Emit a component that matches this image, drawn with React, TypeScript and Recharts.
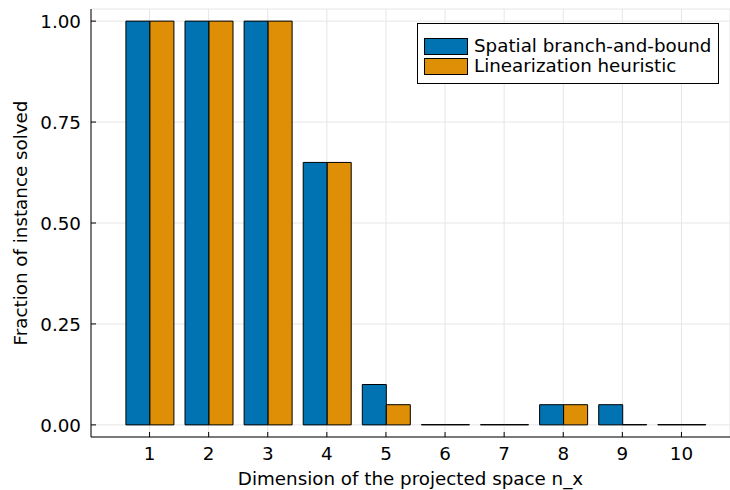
import { Bar, BarChart, CartesianGrid, Label, Legend, XAxis, YAxis } from "recharts";

// values
const dimensions = ["1", "2", "3", "4", "5", "6", "7", "8", "9", "10"];
const branchAndBound = [1, 1, 1, 0.65, 0.1, 0, 0, 0.05, 0.05, 0];
const linearization = [1, 1, 1, 0.65, 0.05, 0, 0, 0.05, 0, 0];
const seriesNames = ["Spatial branch-and-bound", "Linearization heuristic"];
const yTicks = [0, 0.25, 0.5, 0.75, 1];

const data = dimensions.map((dim, i) => ({
	dim,
	sbb: branchAndBound[i],
	lin: linearization[i],
}));

const FONT = "DejaVu Sans";
const FS = 18.3;

const XTick = ({ x, y, payload }: any) => (
	<g>
		<line x1={x} x2={x} y1={y} y2={y - 5} stroke="#000" />
		<text x={x} y={y + 23} textAnchor="middle" fontSize={FS} fill="#000">
			{payload.value}
		</text>
	</g>
);

const YTick = ({ x, y, payload }: any) => (
	<g>
		<line x1={x} x2={x + 5} y1={y} y2={y} stroke="#000" />
		<text x={x - 10} y={y + 7} textAnchor="end" fontSize={FS} fill="#000">
			{Number(payload.value).toFixed(2)}
		</text>
	</g>
);

const xLabel = ({ viewBox }: any) => (
	<text
		x={viewBox.x + viewBox.width / 2}
		y={viewBox.y + 48}
		textAnchor="middle"
		fontSize={FS}
		fill="#000"
	>
		Dimension of the projected space n_x
	</text>
);

const yLabel = ({ viewBox }: any) => {
	const cx = viewBox.x + 27;
	const cy = viewBox.y + viewBox.height / 2;
	return (
		<text
			transform={`translate(${cx},${cy}) rotate(-90)`}
			textAnchor="middle"
			fontSize={FS}
			fill="#000"
		>
			Fraction of instance solved
		</text>
	);
};

const LegendBox = ({ payload }: any) => (
	<div
		style={{
			width: 302,
			height: 61,
			boxSizing: "border-box",
			border: "1px solid #000",
			background: "#fff",
			padding: "12px 0 0 6px",
			fontFamily: FONT,
			fontSize: FS,
			color: "#000",
		}}
	>
		{(payload || []).map((item: any) => (
			<div
				key={item.value}
				style={{ display: "flex", alignItems: "center", height: 20 }}
			>
				<span
					style={{
						display: "inline-block",
						width: 44,
						height: 17,
						boxSizing: "border-box",
						border: "1px solid #000",
						background: item.color,
						marginRight: 6,
					}}
				/>
				<span style={{ lineHeight: "20px" }}>{item.value}</span>
			</div>
		))}
	</div>
);

export default function App() {
	return (
		<div style={{ position: "absolute", left: 0, top: 0 }}>
			<BarChart
				width={730}
				height={490}
				data={data}
				margin={{ top: 9, right: 0, bottom: 0, left: 0 }}
				barCategoryGap="10%"
				barGap={0}
				style={{ fontFamily: FONT, background: "#fff" }}
			>
				<CartesianGrid stroke="#e6e6e6" />
				<XAxis
					dataKey="dim"
					height={53}
					padding={{ left: 29, right: 19 }}
					axisLine={{ stroke: "#000" }}
					tickLine={false}
					tickSize={0}
					tickMargin={0}
					interval={0}
					tick={<XTick />}
				>
					<Label content={xLabel} />
				</XAxis>
				<YAxis
					width={91}
					type="number"
					domain={[-0.03, 1.03]}
					allowDataOverflow
					ticks={yTicks}
					axisLine={{ stroke: "#000" }}
					tickLine={false}
					tickSize={0}
					tickMargin={0}
					interval={0}
					tick={<YTick />}
				>
					<Label content={yLabel} />
				</YAxis>
				<Legend
					layout="horizontal"
					verticalAlign="middle"
					align="center"
					itemSorter={(item: any) => seriesNames.indexOf(item.value)}
					content={<LegendBox />}
					wrapperStyle={{ position: "absolute", left: 417, top: 23, width: 302 }}
				/>
				<Bar
					dataKey="sbb"
					name={seriesNames[0]}
					fill="#0173b2"
					stroke="#000"
					strokeWidth={1}
					minPointSize={0.3}
					isAnimationActive={false}
				/>
				<Bar
					dataKey="lin"
					name={seriesNames[1]}
					fill="#de8f05"
					stroke="#000"
					strokeWidth={1}
					minPointSize={0.3}
					isAnimationActive={false}
				/>
			</BarChart>
		</div>
	);
}
